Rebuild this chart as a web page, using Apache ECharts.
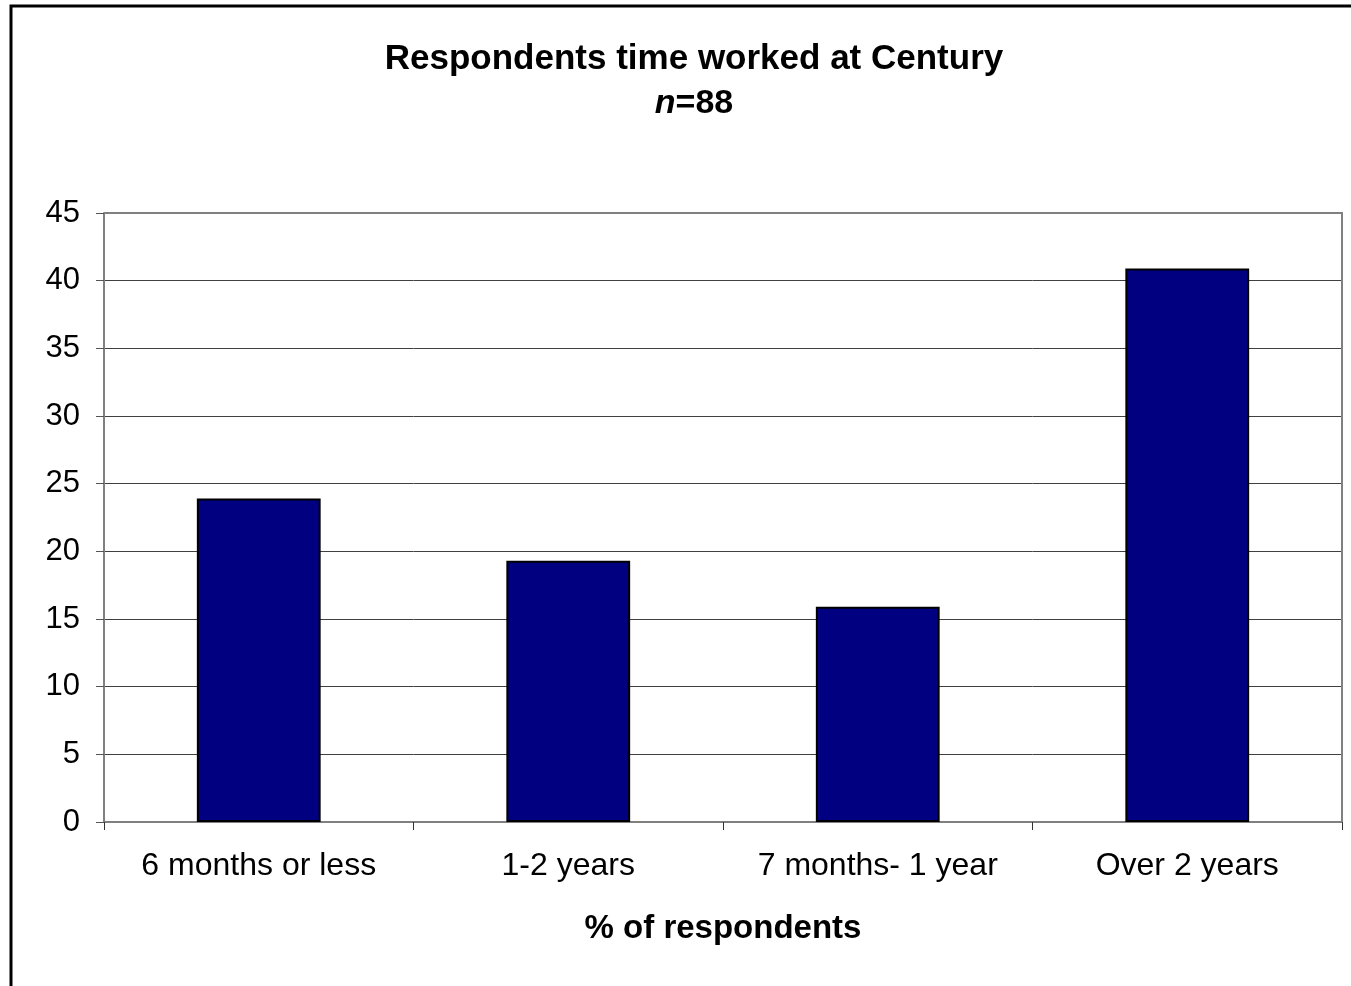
<!DOCTYPE html>
<html>
<head>
<meta charset="utf-8">
<script src="https://cdn.jsdelivr.net/npm/echarts@6/dist/echarts.min.js"></script>
<style>
html,body{margin:0;padding:0;background:#fff;}
#c{width:1351px;height:986px;}
</style>
</head>
<body>
<div id="c"></div>
<script>
const categories = ['6 months or less', '1-2 years', '7 months- 1 year', 'Over 2 years'];
const values = [23.9, 19.3, 15.9, 40.9];
const yTicks = [0, 5, 10, 15, 20, 25, 30, 35, 40, 45];

const chart = echarts.init(document.getElementById('c'));
const FONT = '"Liberation Sans", Arial, sans-serif';
chart.setOption({
  animation: false,
  backgroundColor: '#ffffff',
  textStyle: { fontFamily: FONT },
  title: {
    text: 'Respondents time worked at Century',
    subtext: '{i|n}{b|=88}',
    left: 689,
    top: 37,
    textAlign: 'center',
    itemGap: 10,
    textStyle: { fontFamily: FONT, fontSize: 35, fontWeight: 'bold', color: '#000' },
    subtextStyle: {
      fontFamily: FONT, fontSize: 34, color: '#000',
      rich: {
        i: { fontFamily: FONT, fontSize: 34, fontWeight: 'bold', fontStyle: 'italic', color: '#000' },
        b: { fontFamily: FONT, fontSize: 34, fontWeight: 'bold', color: '#000' }
      }
    }
  },
  graphic: [{
    type: 'rect',
    shape: { x: 11, y: 6, width: 1400, height: 1050 },
    style: { fill: 'none', stroke: '#000', lineWidth: 3 },
    z: 100, silent: true
  }, {
    type: 'polyline',
    shape: { points: [[104, 213], [1342, 213], [1342, 822]] },
    style: { fill: 'none', stroke: '#808080', lineWidth: 2 },
    z: 5, silent: true
  }],
  grid: { left: 104, top: 213, right: 9, bottom: 164, containLabel: false },
  xAxis: {
    type: 'category',
    data: categories,
    boundaryGap: true,
    name: '% of respondents',
    nameLocation: 'middle',
    nameGap: 90,
    nameTextStyle: { fontFamily: FONT, fontSize: 33, fontWeight: 'bold', color: '#000' },
    axisLine: { show: true, lineStyle: { color: '#808080', width: 2 } },
    axisTick: { show: true, alignWithLabel: false, length: 8, lineStyle: { color: '#333', width: 1 } },
    axisLabel: { fontFamily: FONT, fontSize: 32, color: '#000', margin: 28, interval: 0 },
    splitLine: { show: false }
  },
  yAxis: {
    type: 'value',
    min: 0, max: 45, interval: 5,
    axisLine: { show: true, lineStyle: { color: '#808080', width: 2 } },
    axisTick: { show: true, length: 8, lineStyle: { color: '#555', width: 1 } },
    axisLabel: {
      fontFamily: FONT, fontSize: 31, color: '#000', margin: 24,
      formatter: function (v) { return yTicks.indexOf(v) >= 0 ? String(v) : ''; }
    },
    splitLine: { show: true, lineStyle: { color: '#404040', width: 1 } }
  },
  series: [{
    type: 'bar',
    data: values,
    barWidth: '40%',
    itemStyle: { color: '#000080', borderColor: '#000', borderWidth: 2 },
    z: 3
  }]
});
</script>
</body>
</html>
